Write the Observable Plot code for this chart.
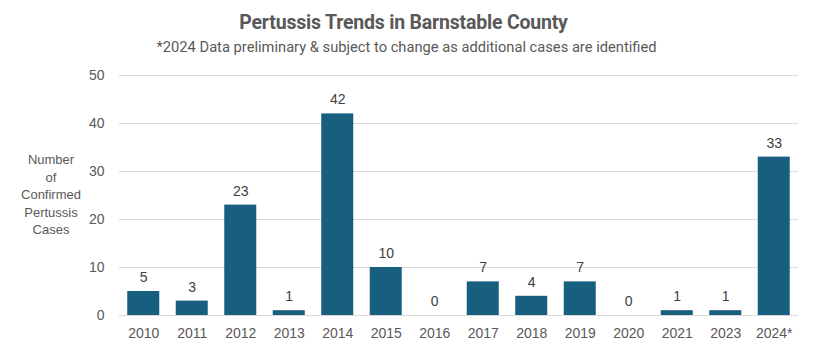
<!DOCTYPE html>
<html>
<head>
<meta charset="utf-8">
<script src="https://cdn.jsdelivr.net/npm/d3@7"></script>
<script src="https://cdn.jsdelivr.net/npm/@observablehq/plot@0.6"></script>
<style>
  html, body { margin: 0; padding: 0; background: #fff; }
  #wrap { position: relative; width: 813px; height: 352px; overflow: hidden; }
  #title { position: absolute; left: -3px; width: 813px; top: 11px; text-align: center;
    font-family: "Roboto", sans-serif; font-weight: bold; font-size: 19.5px; letter-spacing: -0.2px; color: #595959; }
  #subtitle { position: absolute; left: 0; width: 813px; top: 38px; text-align: center;
    font-family: "Roboto", sans-serif; font-size: 14.7px; color: #595959; }
  #ylabel { position: absolute; left: 1px; width: 100px; top: 151px; text-align: center;
    font-family: "Liberation Sans", Arial, sans-serif; font-size: 13px; line-height: 17.5px; color: #595959; }
  #chart { position: absolute; left: 0; top: 0; }
</style>
</head>
<body>
<div id="wrap">
  <div id="chart"></div>
  <div id="title">Pertussis Trends in Barnstable County</div>
  <div id="subtitle">*2024 Data preliminary &amp; subject to change as additional cases are identified</div>
  <div id="ylabel">Number<br>of<br>Confirmed<br>Pertussis<br>Cases</div>
</div>
<script>
const years = ["2010","2011","2012","2013","2014","2015","2016","2017","2018","2019","2020","2021","2023","2024*"];
const cases = [5,3,23,1,42,10,0,7,4,7,0,1,1,33];
const yTicks = [0,10,20,30,40,50];

const data = years.map((y, i) => ({year: y, value: cases[i]}));

const chart = Plot.plot({
  width: 813,
  height: 352,
  marginLeft: 119,
  marginRight: 15,
  marginTop: 75,
  marginBottom: 37,
  style: { fontFamily: '"Liberation Sans", Arial, sans-serif', fontSize: "14px", color: "#595959", background: "transparent" },
  x: { domain: years, paddingInner: 0.34, paddingOuter: 0.17, round: false, label: null },
  y: { domain: [0, 50], label: null },
  marks: [
    Plot.gridY(yTicks, { stroke: "#d9d9d9", strokeOpacity: 1, strokeWidth: 1 }),
    Plot.axisY(yTicks, { tickSize: 0, tickPadding: 15, label: null, fontSize: 14, fill: "#595959" }),
    Plot.axisX({ tickSize: 0, tickPadding: 13, label: null, fontSize: 14, fill: "#595959" }),
    Plot.barY(data, { x: "year", y: "value", fill: "#175e7f" }),
    Plot.ruleY([0], { stroke: "#d9d9d9", strokeWidth: 1 }),
    Plot.text(data, { x: "year", y: "value", text: d => String(d.value), dy: -14, fontSize: 14, fill: "#404040" })
  ]
});
document.getElementById("chart").appendChild(chart);
</script>
</body>
</html>
